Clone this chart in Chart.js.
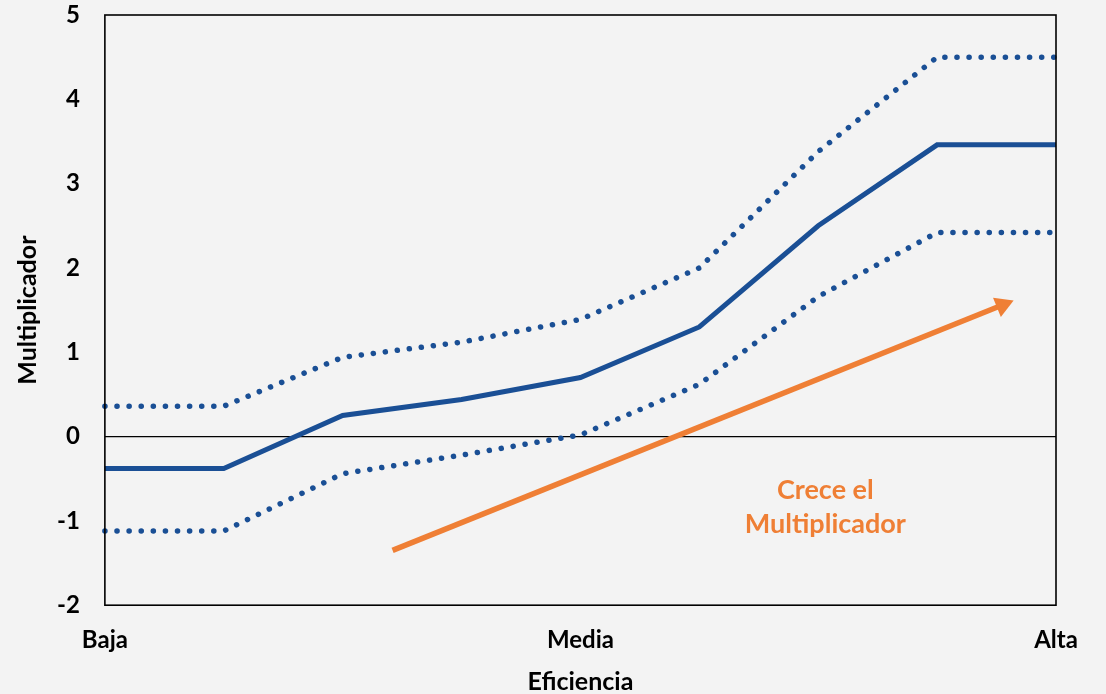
<!DOCTYPE html>
<html>
<head>
<meta charset="utf-8">
<script src="https://cdn.jsdelivr.net/npm/chart.js@4.4.1/dist/chart.umd.min.js"></script>
<style>
  html, body { margin: 0; padding: 0; background: #f3f3f3; }
  #wrap { width: 1106px; height: 694px; }
</style>
</head>
<body>
<div id="wrap"><canvas id="c"></canvas></div>
<script>
// categorias del eje x (posiciones 0, 4, 8)
const xLabels = ['Baja', 'Media', 'Alta'];
const xSteps = [0, 1, 2, 3, 4, 5, 6, 7, 8];

// multiplicador estimado y bandas
const central = [-0.38, -0.38, 0.25, 0.44, 0.70, 1.30, 2.50, 3.46, 3.46];
const upper   = [0.36, 0.36, 0.94, 1.12, 1.39, 2.00, 3.38, 4.50, 4.50];
const lower   = [-1.12, -1.12, -0.44, -0.22, 0.02, 0.62, 1.66, 2.42, 2.42];

// flecha naranja y texto
const arrowX = [2.42, 7.55];
const arrowY = [-1.35, 1.56];
const noteLines = ['Crece el', 'Multiplicador'];
const noteX = 6.06;
const noteY = [-0.64, -1.04];

const BLUE = '#1A4F95';
const ORANGE = '#EF7F35';
const FONT = 'Lato, "Open Sans", sans-serif';

const toPts = arr => arr.map((v, i) => ({ x: xSteps[i], y: v }));

const extras = {
    id: 'extras',
    afterDraw(chart) {
        const { ctx, chartArea: a, scales } = chart;
        ctx.save();
        ctx.strokeStyle = '#000';
        ctx.lineWidth = 1.6;
        ctx.strokeRect(a.left, a.top, a.right - a.left, a.bottom - a.top);
        ctx.fillStyle = ORANGE;
        ctx.font = 'bold 27px ' + FONT;
        ctx.textAlign = 'center';
        ctx.textBaseline = 'middle';
        noteLines.forEach((t, i) => {
            ctx.fillText(t, scales.x.getPixelForValue(noteX), scales.y.getPixelForValue(noteY[i]));
        });
        ctx.restore();
    }
};

new Chart(document.getElementById('c'), {
    type: 'line',
    data: {
        datasets: [
            { data: toPts(upper), borderColor: BLUE, borderWidth: 5.5, borderDash: [0.1, 12], borderCapStyle: 'round', pointRadius: 0, tension: 0 },
            { data: toPts(lower), borderColor: BLUE, borderWidth: 5.5, borderDash: [0.1, 12], borderCapStyle: 'round', pointRadius: 0, tension: 0 },
            { data: toPts(central), borderColor: BLUE, borderWidth: 5, pointRadius: 0, tension: 0 },
            {
                data: arrowX.map((x, i) => ({ x, y: arrowY[i] })),
                borderColor: ORANGE, backgroundColor: ORANGE, borderWidth: 5.5,
                pointStyle: 'triangle', pointRadius: [0, 12], pointRotation: [0, 68],
                pointBorderWidth: 0
            }
        ]
    },
    options: {
        responsive: true,
        maintainAspectRatio: false,
        animation: false,
        clip: false,
        layout: { padding: { top: 0, right: 50, bottom: 0, left: 13 } },
        plugins: { legend: { display: false }, tooltip: { enabled: false } },
        scales: {
            x: {
                type: 'linear', min: 0, max: 8,
                grid: { display: false, drawTicks: false },
                border: { display: false },
                ticks: {
                    stepSize: 4, padding: 21, color: '#000',
                    font: { family: FONT, size: 24, weight: 'bold' },
                    callback: v => xLabels[v / 4]
                },
                title: { display: true, text: 'Eficiencia', color: '#000', padding: { top: -9, bottom: -3 },
                         font: { family: FONT, size: 25, weight: 'bold' } }
            },
            y: {
                min: -2, max: 5,
                afterFit: s => { s.paddingTop = 15; s.paddingBottom = 0; },
                grid: { drawTicks: false, color: c => c.tick.value === 0 ? '#000' : 'transparent', lineWidth: 1.3 },
                border: { display: false },
                ticks: { stepSize: 1, padding: 25, color: '#000', font: { family: FONT, size: 24, weight: 'bold' } },
                title: { display: true, text: 'Multiplicador', color: '#000', padding: { top: 0, bottom: -11 },
                         font: { family: FONT, size: 25, weight: 'bold' } }
            }
        }
    },
    plugins: [extras]
});
</script>
</body>
</html>
